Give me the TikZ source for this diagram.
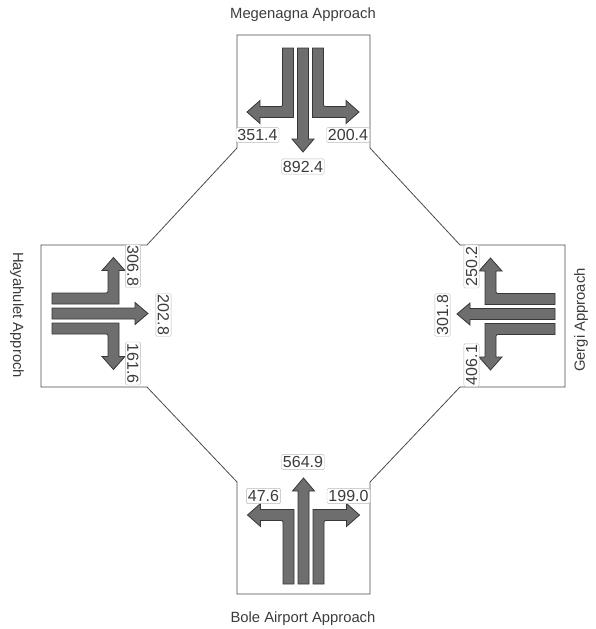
\documentclass[tikz,border=0pt]{standalone}
\usepackage{fontspec}
\setmainfont{Liberation Sans}
\usetikzlibrary{positioning}

\definecolor{lanegray}{RGB}{110,110,110}
\definecolor{edgegray}{RGB}{55,55,55}
\definecolor{boxgray}{RGB}{185,185,185}
\definecolor{txtgray}{RGB}{60,60,60}

% three lane arrows of one approach: #1 = turn point, #2 = tip of the through arrow
\newcommand{\lanes}[2]{%
\draw[lane] (-5.5,0) -- (-5.5,-#2+13) -- (-11,-#2+13) -- (0,-#2) -- (11,-#2+13) -- (5.5,-#2+13) -- (5.5,0) -- cycle;
\draw[lane] (9.5,0) -- (9.5,-#1-5.5) -- (43,-#1-5.5) -- (43,-#1-11.5) -- (56,-#1) -- (43,-#1+11.5) -- (43,-#1+5.5)
  -- (24.5,-#1+5.5) .. controls (20.5,-#1+5.5) .. (20.5,-#1+9.5) -- (20.5,0) -- cycle;
\draw[lane] (-9.5,0) -- (-9.5,-#1-5.5) -- (-43,-#1-5.5) -- (-43,-#1-11.5) -- (-56,-#1) -- (-43,-#1+11.5) -- (-43,-#1+5.5)
  -- (-24.5,-#1+5.5) .. controls (-20.5,-#1+5.5) .. (-20.5,-#1+9.5) -- (-20.5,0) -- cycle;}

\begin{document}
\begin{tikzpicture}[x=1pt,y=-1pt,
  lane/.style={fill=lanegray,draw=edgegray,line width=0.8pt,line join=miter},
  vol/.style={draw=boxgray,fill=white,rounded corners=1.5pt,inner xsep=1.5pt,inner ysep=2pt,
    text=txtgray,font=\fontsize{16}{16}\selectfont},
  apr/.style={text=txtgray,font=\fontsize{14.8}{15}\selectfont},
  rim/.style={draw=edgegray!90,line width=0.8pt}]
\useasboundingbox (0,0) rectangle (596,629);

\coordinate (mgA) at (237,148); \coordinate (mgB) at (237,35);
\coordinate (mgC) at (370,35);  \coordinate (mgD) at (370,148);
\coordinate (grA) at (460,245); \coordinate (grB) at (565,245);
\coordinate (grC) at (565,387); \coordinate (grD) at (460,387);
\coordinate (blA) at (370,482); \coordinate (blB) at (370,594);
\coordinate (blC) at (237,594); \coordinate (blD) at (237,482);
\coordinate (hyA) at (147,387); \coordinate (hyB) at (41,387);
\coordinate (hyC) at (41,245);  \coordinate (hyD) at (147,245);

\draw[rim] (mgA) -- (mgB) -- (mgC) -- (mgD) -- (grA) -- (grB) -- (grC) -- (grD)
  -- (blA) -- (blB) -- (blC) -- (blD) -- (hyA) -- (hyB) -- (hyC) -- (hyD) -- cycle;

\begin{scope}[shift={(303,48)},rotate=180]\lanes{64}{104}\end{scope}
\begin{scope}[shift={(303.5,584)}]\lanes{69}{106}\end{scope}
\begin{scope}[shift={(52,313.5)},rotate=-90]\lanes{61.5}{96}\end{scope}
\begin{scope}[shift={(555,314)},rotate=90]\lanes{64.5}{98}\end{scope}

\node[apr] (megT) at (303,15) {Megenagna Approach};
\node[apr] (bolT) at (303,619) {Bole Airport Approach};
\node[apr,rotate=-90] (hayT) at (17,315) {Hayahulet Approch};
\node[apr,rotate=90] (gerT) at (581,320) {Gergi Approach};

\node[vol] (mgL) at (257.5,135) {351.4};
\node[vol] (mgR) at (348,135) {200.4};
\node[vol] (mgS) at (303,166.5) {892.4};
\node[vol] (blS) at (303,462) {564.9};
\node[vol] (blL) at (263.5,496) {47.6};
\node[vol] (blR) at (348.5,496) {199.0};
\node[vol,rotate=-90] (hyL) at (133,266) {306.8};
\node[vol,rotate=-90] (hyS) at (163.5,315) {202.8};
\node[vol,rotate=-90] (hyR) at (133,363.5) {161.6};
\node[vol,rotate=90] (grR) at (471.5,266.5) {250.2};
\node[vol,rotate=90] (grS) at (442.5,315) {301.8};
\node[vol,rotate=90] (grL) at (471.5,365) {406.1};
\end{tikzpicture}
\end{document}
